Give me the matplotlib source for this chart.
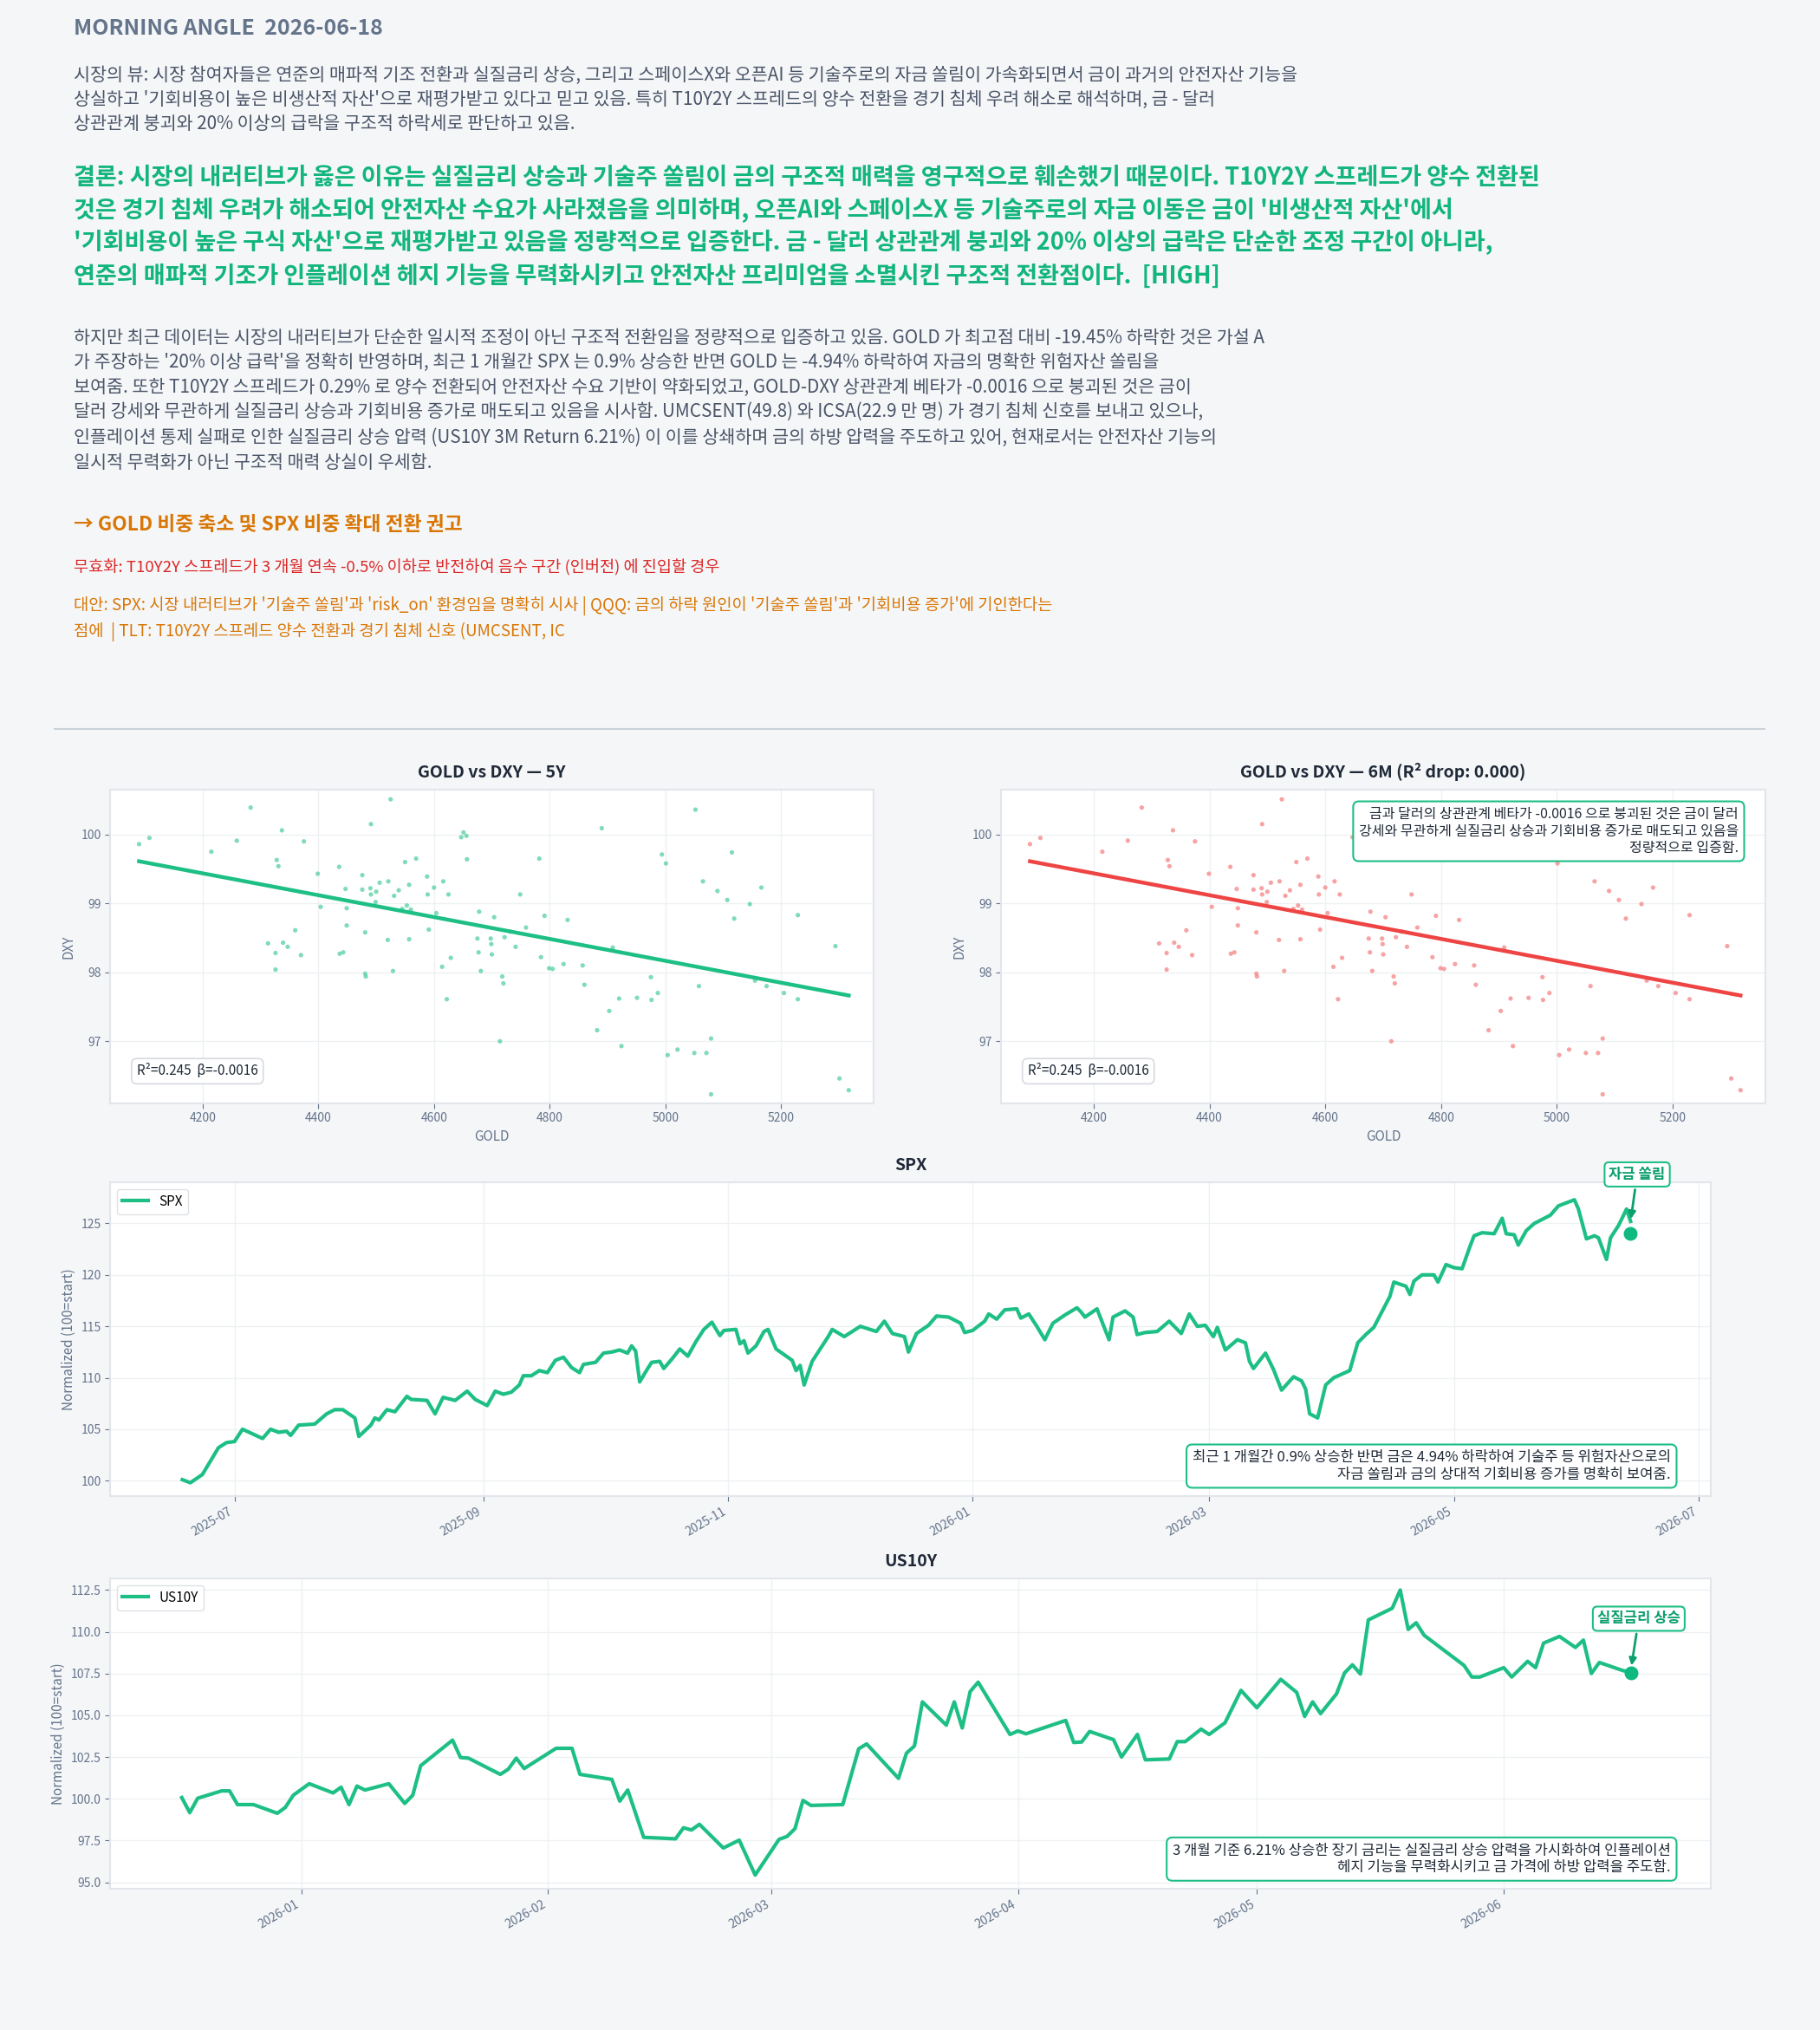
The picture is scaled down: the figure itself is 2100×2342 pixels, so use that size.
import matplotlib
matplotlib.use("Agg")
import matplotlib.pyplot as plt
import matplotlib.dates as mdates
import numpy as np
import pandas as pd

plt.rcParams['font.family'] = ['Noto Sans CJK KR', 'DejaVu Sans']

# ---------------- data ----------------
gold = [4090,4108,4215,4259,4283,4313,4326,4326,4328,4331,4337,4339,4347,4360,4370,4375,4399,4404,4436,4437,
        4443,4447,4449,4449,4476,4476,4481,4481,4482,4490,4491,4491,4499,4500,4506,4520,4521,4525,4529,4531,
        4539,4545,4550,4553,4557,4557,4560,4569,4588,4589,4591,4600,4604,4614,4616,4622,4625,4629,4647,4651,
        4656,4657,4675,4677,4678,4681,4698,4699,4700,4704,4714,4718,4720,4722,4732,4741,4749,4759,4782,4785,
        4791,4799,4805,4824,4831,4857,4860,4882,4890,4903,4909,4920,4924,4951,4975,4976,4987,4994,5001,5004,
        5021,5050,5052,5058,5065,5071,5079,5079,5090,5107,5115,5119,5146,5155,5166,5175,5205,5229,5229,5294,
        5301,5317]
dxy = [99.86,99.95,99.75,99.91,100.39,98.42,98.28,98.04,99.63,99.54,100.06,98.43,98.37,98.61,98.25,99.90,99.43,98.95,99.53,98.27,
       98.29,99.21,98.93,98.68,99.41,99.20,98.58,97.98,97.94,99.22,99.13,100.15,99.02,99.17,99.30,98.47,99.32,100.51,98.02,99.11,
       99.19,98.92,99.60,98.97,99.27,98.48,98.91,99.65,99.39,99.13,98.62,99.23,98.86,98.08,99.32,97.61,99.13,98.21,99.96,100.03,
       99.98,99.64,98.49,98.29,98.88,98.02,98.49,98.41,98.26,98.80,97.00,97.94,97.84,98.51,98.59,98.37,99.13,98.65,99.65,98.22,
       98.82,98.06,98.05,98.12,98.76,98.10,97.82,97.16,100.09,97.44,98.36,97.62,96.93,97.63,97.93,97.60,97.70,99.71,99.58,96.80,
       96.88,96.83,100.36,97.80,99.32,96.83,97.04,96.23,99.18,99.05,99.74,98.78,98.99,97.88,99.23,97.80,97.70,97.61,98.83,98.38,
       96.46,96.29]

spx_start = "2025-06-18"
spx_days = [0,2,5,7,9,11,13,15,20,22,24,26,27,29,33,36,38,40,43,44,47,48,49,51,53,56,57,61,63,65,68,71,73,76,78,80,82,84,85,87,
            89,91,93,95,97,99,100,103,105,107,109,111,112,113,114,116,117,119,120,122,124,126,128,130,132,134,135,138,139,140,
            141,143,145,146,148,152,153,154,155,157,161,162,165,167,169,173,175,177,180,181,183,186,188,191,194,195,197,200,201,203,
            205,208,209,211,213,215,217,220,223,224,225,228,229,231,232,235,237,238,240,243,246,249,251,253,255,257,258,260,263,265,
            266,267,270,272,274,277,279,280,281,283,285,287,291,293,295,297,299,301,302,305,306,307,309,312,313,315,317,319,321,322,
            324,327,329,330,332,333,335,337,341,343,345,347,348,350,352,353,355,356,358,360,361]
spx_vals = [100.1,99.8,100.6,101.9,103.2,103.7,103.8,105.0,104.1,105.0,104.7,104.8,104.4,105.4,105.5,106.5,106.9,106.9,106.1,104.3,
            105.4,106.1,105.9,106.9,106.7,108.2,107.9,107.8,106.5,108.1,107.8,108.7,107.9,107.3,108.7,108.4,108.6,109.3,110.2,110.2,
            110.7,110.5,111.7,112.0,111.0,110.5,111.3,111.5,112.4,112.5,112.7,112.4,113.1,112.6,109.6,110.9,111.5,111.6,110.9,111.8,
            112.8,112.1,113.5,114.7,115.4,114.1,114.6,114.7,113.3,113.6,112.4,113.1,114.5,114.7,112.8,111.7,110.7,111.2,109.3,111.6,
            114.0,114.7,114.0,114.5,115.0,114.5,115.5,114.3,114.0,112.5,114.3,115.1,116.0,115.9,115.3,114.4,114.6,115.5,116.2,115.7,
            116.6,116.7,115.8,116.2,115.0,113.7,115.3,116.1,116.8,116.4,115.9,116.7,115.7,113.7,115.9,116.5,115.9,114.2,114.4,114.5,
            115.5,114.3,116.2,115.0,115.1,114.0,114.9,112.7,113.7,113.4,111.6,110.9,112.4,110.8,108.8,110.1,109.7,108.9,106.5,106.1,
            109.3,110.0,110.7,113.4,114.2,114.9,116.4,117.9,119.3,118.9,118.1,119.4,120.0,120.0,119.3,121.0,120.7,120.6,122.8,123.8,
            124.1,124.0,125.5,124.0,123.9,122.9,124.3,125.0,125.8,126.7,127.0,127.3,126.4,123.5,123.8,123.6,121.5,123.6,124.8,126.4,
            125.2]
spx_last = 124.0

us_start = "2025-12-17"
us_days = [0,1,2,5,6,7,9,12,13,14,16,19,20,21,22,23,26,28,29,30,34,35,36,40,41,42,43,47,49,50,54,55,56,58,62,63,64,65,68,70,
           72,75,76,77,78,79,83,85,86,90,91,92,93,96,97,98,99,100,104,105,106,111,112,113,114,117,118,120,121,124,125,126,128,129,
           131,133,135,138,140,141,142,143,145,146,147,148,149,152,153,154,155,156,161,162,163,166,167,169,170,171,173,175,176,177,
           178,181,182]
us_vals = [100.07,99.17,100.03,100.47,100.47,99.65,99.65,99.13,99.48,100.21,100.90,100.35,100.69,99.65,100.76,100.52,100.90,99.72,100.21,101.98,
           103.51,102.47,102.43,101.46,101.77,102.43,101.81,103.02,103.02,101.46,101.16,99.86,100.52,97.69,97.60,98.26,98.13,98.47,97.05,97.52,
           95.43,97.57,97.74,98.21,99.90,99.60,99.65,102.99,103.28,101.22,102.73,103.16,105.80,104.41,105.80,104.24,106.42,106.98,103.85,104.06,
           103.89,104.69,103.37,103.40,104.03,103.54,102.50,103.85,102.33,102.38,103.42,103.42,104.17,103.85,104.55,106.49,105.45,107.15,106.37,104.93,
           105.80,105.10,106.28,107.53,108.02,107.47,110.71,111.41,112.50,110.14,110.54,109.79,107.99,107.29,107.29,107.85,107.29,108.23,107.85,109.32,
           109.72,109.06,109.50,107.50,108.16,107.67,107.59]
us_last = 107.53

# ---------------- style ----------------
BG = "#f5f6f8"
GREEN = "#1dbf85"
GREEN_PT = "#5fd3a6"
RED = "#ef4444"
RED_PT = "#f58c8c"
GRAYT = "#4a5568"
TICK = "#64748b"
EDGE = "#e2e5ea"

fig = plt.figure(figsize=(21, 23.42), dpi=100, facecolor=BG)

X0 = 0.0405
def line(ytop, s, **kw):
    fig.text(X0, 1 - ytop, s, va='center', ha='left', **kw)

line(0.0140, "MORNING ANGLE  2026-06-18", fontsize=18, fontweight='bold', color="#64748b")
p1 = ["시장의 뷰: 시장 참여자들은 연준의 매파적 기조 전환과 실질금리 상승, 그리고 스페이스X와 오픈AI 등 기술주로의 자금 쏠림이 가속화되면서 금이 과거의 안전자산 기능을",
      "상실하고 '기회비용이 높은 비생산적 자산'으로 재평가받고 있다고 믿고 있음. 특히 T10Y2Y 스프레드의 양수 전환을 경기 침체 우려 해소로 해석하며, 금 - 달러",
      "상관관계 붕괴와 20% 이상의 급락을 구조적 하락세로 판단하고 있음."]
for y, s in zip([0.0370, 0.0491, 0.0612], p1):
    line(y, s, fontsize=14.9, color=GRAYT)
cc = ["결론: 시장의 내러티브가 옳은 이유는 실질금리 상승과 기술주 쏠림이 금의 구조적 매력을 영구적으로 훼손했기 때문이다. T10Y2Y 스프레드가 양수 전환된",
      "것은 경기 침체 우려가 해소되어 안전자산 수요가 사라졌음을 의미하며, 오픈AI와 스페이스X 등 기술주로의 자금 이동은 금이 '비생산적 자산'에서",
      "'기회비용이 높은 구식 자산'으로 재평가받고 있음을 정량적으로 입증한다. 금 - 달러 상관관계 붕괴와 20% 이상의 급락은 단순한 조정 구간이 아니라,",
      "연준의 매파적 기조가 인플레이션 헤지 기능을 무력화시키고 안전자산 프리미엄을 소멸시킨 구조적 전환점이다.  [HIGH]"]
for y, s in zip([0.0874, 0.1034, 0.1193, 0.1359], cc):
    line(y, s, fontsize=19.5, fontweight='bold', color="#12b57c")
p3 = ["하지만 최근 데이터는 시장의 내러티브가 단순한 일시적 조정이 아닌 구조적 전환임을 정량적으로 입증하고 있음. GOLD 가 최고점 대비 -19.45% 하락한 것은 가설 A",
      "가 주장하는 '20% 이상 급락'을 정확히 반영하며, 최근 1 개월간 SPX 는 0.9% 상승한 반면 GOLD 는 -4.94% 하락하여 자금의 명확한 위험자산 쏠림을",
      "보여줌. 또한 T10Y2Y 스프레드가 0.29% 로 양수 전환되어 안전자산 수요 기반이 약화되었고, GOLD-DXY 상관관계 베타가 -0.0016 으로 붕괴된 것은 금이",
      "달러 강세와 무관하게 실질금리 상승과 기회비용 증가로 매도되고 있음을 시사함. UMCSENT(49.8) 와 ICSA(22.9 만 명) 가 경기 침체 신호를 보내고 있으나,",
      "인플레이션 통제 실패로 인한 실질금리 상승 압력 (US10Y 3M Return 6.21%) 이 이를 상쇄하며 금의 하방 압력을 주도하고 있어, 현재로서는 안전자산 기능의",
      "일시적 무력화가 아닌 구조적 매력 상실이 우세함."]
for y, s in zip([0.1665, 0.1786, 0.1907, 0.2029, 0.2156, 0.2278], p3):
    line(y, s, fontsize=14.9, color=GRAYT)
line(0.2584, "→ GOLD 비중 축소 및 SPX 비중 확대 전환 권고", fontsize=16.4, fontweight='bold', color="#d97706")
line(0.2794, "무효화: T10Y2Y 스프레드가 3 개월 연속 -0.5% 이하로 반전하여 음수 구간 (인버전) 에 진입할 경우", fontsize=13.4, color="#dc2626")
line(0.2986, "대안: SPX: 시장 내러티브가 '기술주 쏠림'과 'risk_on' 환경임을 명확히 시사 | QQQ: 금의 하락 원인이 '기술주 쏠림'과 '기회비용 증가'에 기인한다는", fontsize=13.5, color="#d97706")
line(0.3113, "점에  | TLT: T10Y2Y 스프레드 양수 전환과 경기 침체 신호 (UMCSENT, IC", fontsize=13.5, color="#d97706")
fig.add_artist(plt.Line2D([0.03, 0.9695], [1 - 0.3592, 1 - 0.3592], color="#cbd2da", lw=1.5))

def style(ax):
    ax.set_facecolor("white")
    for sp in ax.spines.values():
        sp.set_color(EDGE); sp.set_linewidth(1.5)
    ax.grid(True, color="#eef0f3", lw=1)
    ax.set_axisbelow(True)
    ax.tick_params(colors=TICK, labelsize=10, length=4)

box = dict(boxstyle="round,pad=0.4", fc="white", ec=GREEN, lw=1.5)
g = np.array(gold); d = np.array(dxy)
b, a = np.polyfit(g, d, 1)
xx = np.array([g.min(), g.max()])
for k, (pos, ptc, lc, title) in enumerate([
        ([0.0605, 0.4565, 0.4195, 0.1545], GREEN_PT, GREEN, "GOLD vs DXY — 5Y"),
        ([0.55, 0.4565, 0.42, 0.1545], RED_PT, RED, "GOLD vs DXY — 6M (R² drop: 0.000)")]):
    ax = fig.add_axes(pos)
    style(ax)
    ax.scatter(g, d, s=14, color=ptc, alpha=0.8, edgecolors='none', zorder=2)
    ax.plot(xx, a + b * xx, color=lc, lw=3.2, zorder=3)
    ax.set_xlim(4040, 5360); ax.set_ylim(96.1, 100.65)
    ax.set_xticks([4200, 4400, 4600, 4800, 5000, 5200]); ax.set_yticks([97, 98, 99, 100])
    ax.set_xlabel("GOLD", color=TICK, fontsize=11); ax.set_ylabel("DXY", color=TICK, fontsize=11)
    ax.set_title(title, fontsize=14, fontweight='bold', color="#1f2937", pad=10)
    ax.text(0.035, 0.09, "R²=0.245  β=-0.0016", transform=ax.transAxes, fontsize=11, color="#1f2937",
            bbox=dict(boxstyle="round,pad=0.4", fc="white", ec="#d6dae0", lw=1.2))
    if k == 1:
        ax.text(0.965, 0.945, "금과 달러의 상관관계 베타가 -0.0016 으로 붕괴된 것은 금이 달러\n강세와 무관하게 실질금리 상승과 기회비용 증가로 매도되고 있음을\n정량적으로 입증함.",
                transform=ax.transAxes, ha='right', va='top', fontsize=11.5, color="#1f2937", bbox=box)

def ts_panel(pos, start, days, vals, last, name, ylim, xlim, yticks, note, tag, tagxy):
    ax = fig.add_axes(pos)
    style(ax)
    dates = pd.Timestamp(start) + pd.to_timedelta(days, unit='D')
    ax.plot(dates, vals, color=GREEN, lw=3, label=name)
    ax.scatter([dates[-1]], [last], s=110, color="#10b981", zorder=5)
    ax.set_ylim(*ylim); ax.set_xlim(pd.Timestamp(xlim[0]), pd.Timestamp(xlim[1]))
    ax.set_yticks(yticks)
    ax.xaxis.set_major_locator(mdates.MonthLocator(bymonth=range(1, 13, 2) if name == "SPX" else range(1, 13)))
    ax.xaxis.set_major_formatter(mdates.DateFormatter("%Y-%m"))
    plt.setp(ax.get_xticklabels(), rotation=30, ha='right')
    ax.set_ylabel("Normalized (100=start)", color=TICK, fontsize=11)
    ax.set_title(name, fontsize=14, fontweight='bold', color="#1f2937", pad=10)
    leg = ax.legend(loc='upper left', fontsize=11, frameon=True, handlelength=2)
    leg.get_frame().set_edgecolor("#d6dae0")
    ax.text(0.975, 0.045, note, transform=ax.transAxes, ha='right', va='bottom', fontsize=12, color="#1f2937", bbox=box)
    ax.annotate(tag, xy=(dates[-1], vals[-1] if name == "SPX" else last + 0.3), xytext=tagxy, textcoords='axes fraction',
                ha='center', va='center', fontsize=12, fontweight='bold', color="#0e9f6e",
                bbox=dict(boxstyle="round,pad=0.3", fc="white", ec=GREEN, lw=1.5),
                arrowprops=dict(arrowstyle='-|>', color="#0e9f6e", lw=2), annotation_clip=False)
    return ax

ts_panel([0.0605, 0.263, 0.8795, 0.1546], spx_start, spx_days, spx_vals, spx_last, "SPX",
         (98.5, 129), ("2025-05-31", "2026-07-04"), [100, 105, 110, 115, 120, 125],
         "최근 1 개월간 0.9% 상승한 반면 금은 4.94% 하락하여 기술주 등 위험자산으로의\n자금 쏠림과 금의 상대적 기회비용 증가를 명확히 보여줌.",
         "자금 쏠림", (0.954, 1.025))
ts_panel([0.0605, 0.0695, 0.8795, 0.153], us_start, us_days, us_vals, us_last, "US10Y",
         (94.6, 113.2), ("2025-12-08", "2026-06-27"), [95.0, 97.5, 100.0, 102.5, 105.0, 107.5, 110.0, 112.5],
         "3 개월 기준 6.21% 상승한 장기 금리는 실질금리 상승 압력을 가시화하여 인플레이션\n헤지 기능을 무력화시키고 금 가격에 하방 압력을 주도함.",
         "실질금리 상승", (0.955, 0.87))

fig.savefig("out.png", dpi=100, facecolor=BG)
